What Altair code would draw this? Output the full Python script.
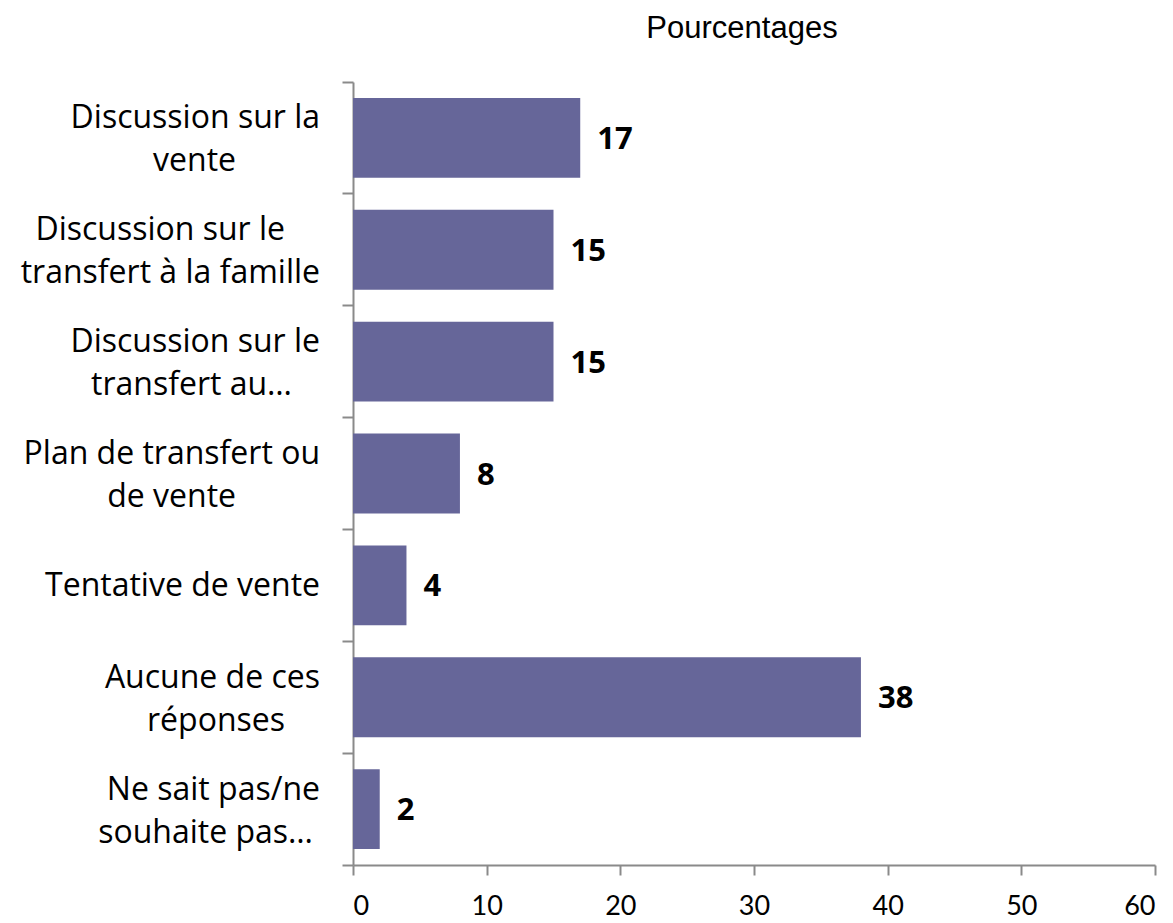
import altair as alt
import pandas as pd

categories = [
    "Discussion sur la\nvente",
    "Discussion sur le\ntransfert à la famille",
    "Discussion sur le\ntransfert au…",
    "Plan de transfert ou\nde vente",
    "Tentative de vente",
    "Aucune de ces\nréponses",
    "Ne sait pas/ne\nsouhaite pas…",
]
values = [17, 15, 15, 8, 4, 38, 2]
x_ticks = [0, 10, 20, 30, 40, 50, 60]

df = pd.DataFrame({"cat": categories, "val": values})

LABEL_FONT = "Open Sans"
TICK_FONT = "Lato"
GRAY = "#8a8a8a"
LINE_H = 43

y_axis = alt.Axis(
    bandPosition=1,
    tickExtra=True,
    tickSize=11,
    tickWidth=2,
    tickColor=GRAY,
    domainColor=GRAY,
    domainWidth=2,
    labels=False,
)
y_enc = alt.Y(
    "cat:N",
    sort=categories,
    title=None,
    scale=alt.Scale(paddingInner=0, paddingOuter=0),
    axis=y_axis,
)

x_enc = alt.X(
    "val:Q",
    title=None,
    scale=alt.Scale(domain=[0, 60], nice=False),
    axis=alt.Axis(
        values=x_ticks,
        grid=False,
        tickSize=10,
        tickWidth=2,
        tickColor=GRAY,
        domainColor=GRAY,
        domainWidth=2,
        labelFont=TICK_FONT,
        labelFontSize=27,
        labelColor="black",
        labelPadding=18,
    ),
)

base = alt.Chart(df)

bars = base.mark_bar(color="#666699", height={"band": 0.714}).encode(x=x_enc, y=y_enc)

values_text = base.mark_text(
    align="left",
    baseline="middle",
    dx=17,
    dy=2,
    font=LABEL_FONT,
    fontWeight="bold",
    fontSize=31,
    color="black",
).encode(x="val:Q", y=alt.Y("cat:N", sort=categories), text="val:Q")

# category labels: wrapped text split into lines; the shorter line is nudged left so it sits centred
lines = base.transform_calculate(
    parts="split(datum.cat, '\\n')"
).transform_calculate(
    n="length(datum.parts)",
    l0="datum.parts[0]",
    l1="length(datum.parts) > 1 ? datum.parts[1] : ''",
)

label_style = dict(
    align="right",
    baseline="middle",
    font=LABEL_FONT,
    fontSize=32,
    color="black",
)
y_lab = alt.Y("cat:N", sort=categories)

single = lines.transform_filter("datum.n == 1").mark_text(dy=1, **label_style).encode(
    x=alt.value(-33), y=y_lab, text="l0:N"
)
first = lines.transform_filter("datum.n > 1").mark_text(
    dy=-LINE_H / 2 + 2,
    dx=alt.ExprRef("-7 * max(0, length(datum.l1) - length(datum.l0))"),
    **label_style,
).encode(x=alt.value(-33), y=y_lab, text="l0:N")
second = lines.transform_filter("datum.n > 1").mark_text(
    dy=LINE_H / 2 + 2,
    dx=alt.ExprRef("-7 * max(0, length(datum.l0) - length(datum.l1))"),
    **label_style,
).encode(x=alt.value(-33), y=y_lab, text="l1:N")

chart = (
    alt.layer(bars, values_text, single, first, second)
    .properties(
        width=802,
        height=783,
        title=alt.TitleParams(
            "Pourcentages",
            font="Liberation Sans",
            fontSize=31,
            fontWeight="normal",
            color="black",
            anchor="middle",
            dx=-12,
            offset=36,
        ),
        autosize=alt.AutoSizeParams(type="none"),
        padding={"left": 345, "top": 74, "right": 10, "bottom": 56},
    )
    .configure_view(stroke=None)
)

chart.save("out.html", embed_options={"renderer": "svg", "actions": False})
